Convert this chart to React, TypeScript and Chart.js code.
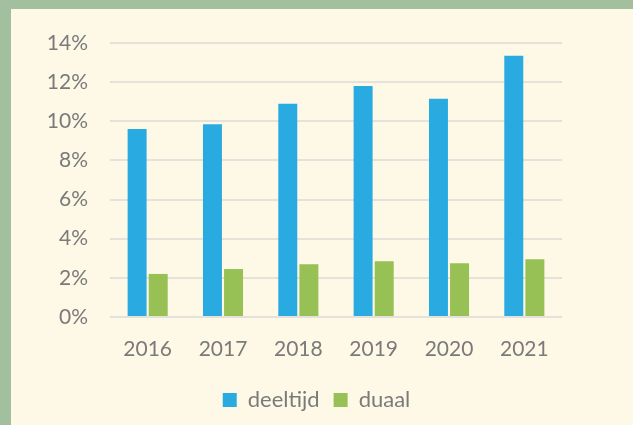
import React, { useEffect, useRef } from "react";
import { Chart, registerables } from "chart.js";

Chart.register(...registerables);

const years = ["2016", "2017", "2018", "2019", "2020", "2021"];
const deeltijd = [9.6, 9.85, 10.9, 11.8, 11.15, 13.35];
const duaal = [2.2, 2.45, 2.7, 2.85, 2.75, 2.95];

const FONT = "Lato, 'Open Sans', sans-serif";
const TEXT = "#7A7A7A";

export default function App() {
  const ref = useRef<HTMLCanvasElement | null>(null);
  useEffect(() => {
    document.body.style.margin = "0";
    const ctx = ref.current!;
    const chart = new Chart(ctx, {
      type: "bar",
      data: {
        labels: years,
        datasets: [
          { label: "deeltijd", data: deeltijd, backgroundColor: "#29ABE2", categoryPercentage: 0.56, barPercentage: 0.9 },
          { label: "duaal", data: duaal, backgroundColor: "#97C155", categoryPercentage: 0.56, barPercentage: 0.9 },
        ],
      },
      options: {
        animation: false,
        responsive: false,
        maintainAspectRatio: false,
        layout: { padding: { left: 0, right: 0, top: 43, bottom: 4 } },
        plugins: {
          tooltip: { enabled: false },
          legend: {
            position: "bottom",
            labels: {
              color: TEXT,
              font: { family: FONT, size: 22 },
              boxWidth: 14,
              boxHeight: 14,
              padding: 14,
            },
          },
        },
        scales: {
          x: {
            grid: { display: false },
            border: { display: false },
            ticks: { color: TEXT, font: { family: FONT, size: 21 }, padding: 12 },
            afterFit: (s: any) => { s.height = 58; },
          },
          y: {
            min: 0,
            max: 14,
            grid: { color: "#E4E2DA", lineWidth: 2, drawTicks: false },
            border: { display: false },
            ticks: {
              stepSize: 2,
              color: TEXT,
              font: { family: FONT, size: 21 },
              padding: 22,
              callback: (v: any) => v + "%",
            },
            afterFit: (s: any) => { s.width = 110; },
          },
          yRight: {
            position: "right",
            min: 0,
            max: 14,
            grid: { display: false, drawOnChartArea: false },
            border: { display: false },
            ticks: { display: false },
            afterFit: (s: any) => { s.width = 71; },
          },
        },
      },
    });
    return () => chart.destroy();
  }, []);
  return (
    <div style={{ position: "absolute", left: 0, top: 0, width: 633, height: 425, background: "#A3C09E", overflow: "hidden" }}>
      <div style={{ position: "absolute", left: 11, top: 9, width: 622, height: 416, background: "#FEF9E6" }} />
      <canvas ref={ref} width={633} height={425} style={{ position: "absolute", left: 0, top: 0, width: 633, height: 425 }} />
    </div>
  );
}
